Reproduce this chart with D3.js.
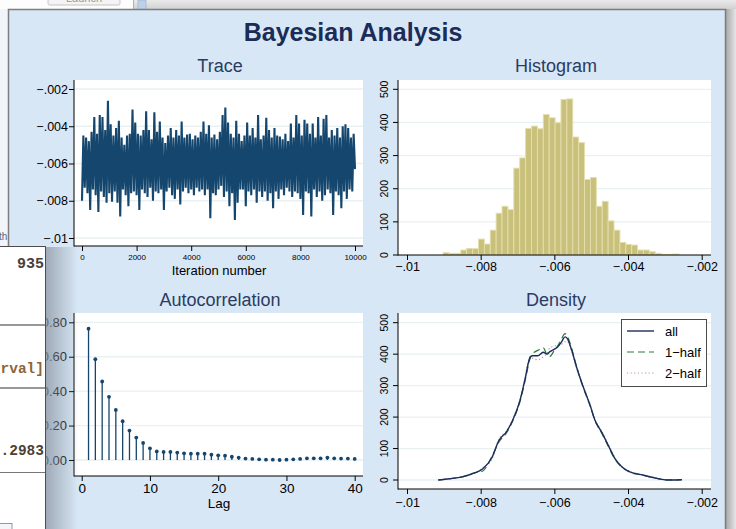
<!DOCTYPE html>
<html>
<head>
<meta charset="utf-8">
<script src="https://cdn.jsdelivr.net/npm/d3@7"></script>
<style>
html, body { margin: 0; padding: 0; background: #dedede; overflow: hidden; }
svg { display: block; font-family: "Liberation Sans", Arial, sans-serif; }
</style>
</head>
<body>
<script>

// ---- data ----

// trace: per block of 100 iterations, the lowest and highest draw
const traceStep = 100;
const traceHi = [-0.0045,-0.0046,-0.0048,-0.0043,-0.0035,-0.0044,-0.0034,-0.0035,-0.0042,-0.00263,
  -0.0039,-0.0045,-0.0041,-0.0037,-0.0046,-0.0050,-0.0045,-0.0044,-0.0031,-0.0038,
  -0.0044,-0.0045,-0.0042,-0.0032,-0.0042,-0.0047,-0.00325,-0.0043,-0.00375,-0.0046,
  -0.0049,-0.0045,-0.0041,-0.0046,-0.0042,-0.0045,-0.00375,-0.0046,-0.00445,-0.0044,
  -0.0047,-0.0045,-0.0046,-0.0043,-0.00375,-0.0044,-0.00395,-0.0046,-0.00445,-0.0047,
  -0.0043,-0.0034,-0.0030,-0.0038,-0.0044,-0.0046,-0.0037,-0.0044,-0.0048,-0.0045,
  -0.0038,-0.0045,-0.0041,-0.0046,-0.0034,-0.0047,-0.0045,-0.00355,-0.0042,-0.0046,
  -0.0041,-0.0045,-0.00455,-0.0047,-0.0044,-0.0048,-0.00385,-0.0046,-0.0034,-0.00385,
  -0.0045,-0.00365,-0.00385,-0.0044,-0.00385,-0.0046,-0.0035,-0.0045,-0.0036,-0.0034,
  -0.0046,-0.0042,-0.0045,-0.0041,-0.0046,-0.0040,-0.0039,-0.0041,-0.0046,-0.0044,
  -0.0045];
const traceLo = [-0.0080,-0.0073,-0.0076,-0.0085,-0.0074,-0.0077,-0.0086,-0.0075,-0.0078,-0.0081,
  -0.0076,-0.00805,-0.0075,-0.0081,-0.00885,-0.0074,-0.0077,-0.0083,-0.0076,-0.0075,
  -0.0077,-0.0085,-0.0074,-0.0076,-0.0078,-0.0073,-0.0080,-0.0075,-0.0076,-0.0074,
  -0.0085,-0.0075,-0.0073,-0.0077,-0.0079,-0.0074,-0.0082,-0.0075,-0.0073,-0.0076,
  -0.0074,-0.0077,-0.0073,-0.0075,-0.0074,-0.0077,-0.0074,-0.00894,-0.0076,-0.0077,
  -0.0074,-0.0072,-0.0078,-0.0075,-0.0083,-0.0076,-0.00903,-0.0081,-0.0074,-0.0074,
  -0.0083,-0.0075,-0.0077,-0.0074,-0.0081,-0.0075,-0.0078,-0.0075,-0.0080,-0.0076,
  -0.0084,-0.0075,-0.0079,-0.0074,-0.0077,-0.0073,-0.0075,-0.0078,-0.0075,-0.0076,
  -0.0079,-0.00876,-0.0075,-0.0076,-0.00885,-0.0074,-0.0078,-0.0075,-0.0080,-0.0077,
  -0.0074,-0.0076,-0.00876,-0.0075,-0.0077,-0.0084,-0.0075,-0.0079,-0.0074,-0.0075,
  -0.0063];
const traceXTicks = [0, 2000, 4000, 6000, 8000, 10000];
const traceYTicks = [-0.01, -0.008, -0.006, -0.004, -0.002];

// histogram: 40 bins, density per bin
const histStart = -0.00902;
const histBinWidth = 0.00016;
const histDensity = [7, 5, 5, 15, 20, 19, 48, 33, 75, 126,
  147, 137, 262, 293, 382, 389, 381, 424, 414, 399,
  469, 471, 356, 339, 228, 234, 147, 162, 103, 75,
  38, 32, 30, 15, 15, 10, 5, 2, 2, 3];
const paramTicks = [-0.01, -0.008, -0.006, -0.004, -0.002];
const densTicks = [0, 100, 200, 300, 400, 500];

// autocorrelation, lags 1..40
const acfLags = d3.range(1, 41);
const acfValues = [0.763, 0.586, 0.456, 0.367, 0.291, 0.225, 0.171, 0.130, 0.099, 0.068,
  0.050, 0.047, 0.047, 0.043, 0.039, 0.037, 0.037, 0.037, 0.031, 0.027,
  0.025, 0.019, 0.014, 0.008, 0.006, 0.004, 0.002, 0.002, 0.000, 0.002,
  0.004, 0.006, 0.010, 0.010, 0.010, 0.014, 0.010, 0.008, 0.008, 0.006];
const lagTicks = [0, 10, 20, 30, 40];
const acfTicks = [0, 0.2, 0.4, 0.6, 0.8];

// kernel density: whole chain and its two halves
const densX = [-0.00915, -0.00885, -0.00850, -0.00820, -0.00795, -0.00770, -0.00750, -0.00730, -0.00712, -0.00693,
  -0.00680, -0.00666, -0.00660, -0.00645, -0.00630, -0.00620, -0.00612, -0.00601, -0.00590, -0.00580,
  -0.00571, -0.00565, -0.00553, -0.00540, -0.00522, -0.00503, -0.00490, -0.00472, -0.00454, -0.00436,
  -0.00417, -0.00395, -0.00360, -0.00322, -0.00295, -0.00254];
const densAll = [0, 4, 10, 21, 35, 70, 127, 153, 193, 254, 318, 390, 395, 395, 406, 400, 408, 415, 424, 440,
  455, 450, 413, 360, 297, 238, 191, 153, 111, 69, 42, 26, 16, 5, 0, 1];
const densHalf1 = [0, 4, 10, 22, 28, 74, 122, 150, 190, 250, 312, 385, 400, 412, 420, 398, 393, 410, 428, 450,
  465, 458, 418, 362, 295, 236, 190, 150, 108, 67, 41, 25, 15, 5, 0, 1];
const densHalf2 = [0, 4, 11, 20, 38, 66, 130, 156, 196, 258, 322, 392, 388, 382, 392, 402, 420, 425, 430, 432,
  440, 440, 408, 358, 300, 240, 193, 156, 114, 72, 43, 27, 17, 6, 1, 1];
const densLabels = ["all", "1\u2212half", "2\u2212half"];


// ---- drawing ----

const W = 736, H = 529;
const navy = "#15466e";
const gridCol = "#e9f1f3";

const svg = d3.select("body").append("svg")
    .attr("width", W)
    .attr("height", H);

const defs = svg.append("defs");
let rg = defs.append("linearGradient").attr("id", "rightShade");
rg.append("stop").attr("offset", "0").attr("stop-color", "#a9a9a9");
rg.append("stop").attr("offset", "1").attr("stop-color", "#e6e6e6");
let sg = defs.append("linearGradient").attr("id", "leftShadow");
sg.append("stop").attr("offset", "0").attr("stop-color", "#8c96a3").attr("stop-opacity", 0.75);
sg.append("stop").attr("offset", "1").attr("stop-color", "#8c96a3").attr("stop-opacity", 0);
let tg = defs.append("linearGradient").attr("id", "topShade")
    .attr("x1", 0).attr("y1", 0).attr("x2", 0).attr("y2", 1);
tg.append("stop").attr("offset", "0").attr("stop-color", "#eaeaea");
tg.append("stop").attr("offset", "1").attr("stop-color", "#cfcfcf");

// windows behind
svg.append("rect").attr("x", 0).attr("y", 0).attr("width", W).attr("height", 10).attr("fill", "url(#topShade)");
svg.append("rect").attr("x", 0).attr("y", 0).attr("width", 133).attr("height", 10).attr("fill", "#fdfdfd");
svg.append("rect").attr("x", 48).attr("y", -8).attr("width", 72).attr("height", 13).attr("rx", 2)
    .attr("fill", "#f4f4f4").attr("stroke", "#c4c4c4");
svg.append("text").attr("x", 84).attr("y", 2).attr("text-anchor", "middle")
    .attr("font-size", 11).attr("fill", "#999").text("Launch");
svg.append("line").attr("x1", 133.5).attr("x2", 133.5).attr("y1", 0).attr("y2", 10).attr("stroke", "#b0b0b0");
svg.append("rect").attr("x", 138).attr("y", 0).attr("width", 8).attr("height", 10)
    .attr("fill", "#bcd0ea").attr("stroke", "#9fb4cf").attr("stroke-width", 0.8);
svg.append("rect").attr("x", 726).attr("y", 9).attr("width", 10).attr("height", H).attr("fill", "url(#rightShade)");
svg.append("rect").attr("x", 0).attr("y", 9).attr("width", 9).attr("height", 240).attr("fill", "#f1f4f8");
svg.append("text").attr("x", -1).attr("y", 240).attr("font-size", 10).attr("fill", "#5a6880").text("th");

// graph window
svg.append("rect").attr("x", 8.5).attr("y", 9.5).attr("width", 717).attr("height", 540)
    .attr("fill", "#d8e7f5").attr("stroke", "#7d7d7d").attr("stroke-width", 1.5);

svg.append("text").attr("x", 353).attr("y", 41).attr("text-anchor", "middle")
    .attr("font-size", 25).attr("font-weight", "bold").attr("fill", "#1b2c58")
    .text("Bayesian Analysis");

function subtitle(x, y, s) {
    svg.append("text").attr("x", x).attr("y", y).attr("text-anchor", "middle")
        .attr("font-size", 18).attr("fill", "#2b3b64").text(s);
}

function plotBox(b) {
    svg.append("rect").attr("x", b.x0).attr("y", b.y0)
        .attr("width", b.x1 - b.x0).attr("height", b.y1 - b.y0).attr("fill", "#fff");
}

function gridlines(b, y, ticks) {
    svg.append("g").selectAll("line").data(ticks).join("line")
        .attr("x1", b.x0).attr("x2", b.x1)
        .attr("y1", d => y(d)).attr("y2", d => y(d))
        .attr("stroke", gridCol).attr("stroke-width", 1.3);
}

function styleAxis(ax, size) {
    ax.attr("font-family", null).attr("font-size", size);
    ax.select(".domain").remove();
    ax.selectAll("line").attr("stroke", "#000");
    ax.selectAll("text").attr("fill", "#000");
}

function leftAxis(b, y, ticks, fmt, size, pad) {
    let ax = svg.append("g").attr("transform", "translate(" + b.x0 + ",0)")
        .call(d3.axisLeft(y).tickValues(ticks).tickFormat(fmt).tickSize(5).tickPadding(pad));
    styleAxis(ax, size);
    svg.append("line").attr("x1", b.x0).attr("x2", b.x0).attr("y1", b.y0).attr("y2", b.y1 + 0.5)
        .attr("stroke", "#000");
}

function leftAxisRotated(b, y, ticks, size) {
    let g = svg.append("g");
    g.selectAll("line").data(ticks).join("line")
        .attr("x1", b.x0 - 5).attr("x2", b.x0)
        .attr("y1", d => y(d)).attr("y2", d => y(d)).attr("stroke", "#000");
    g.selectAll("text").data(ticks).join("text")
        .attr("transform", d => "translate(" + (b.x0 - 10) + "," + y(d) + ") rotate(-90)")
        .attr("text-anchor", "middle").attr("font-size", size).attr("fill", "#000")
        .text(d => d);
    svg.append("line").attr("x1", b.x0).attr("x2", b.x0).attr("y1", b.y0).attr("y2", b.y1 + 0.5)
        .attr("stroke", "#000");
}

function bottomAxis(b, x, ticks, fmt, size, pad) {
    let ax = svg.append("g").attr("transform", "translate(0," + b.y1 + ")")
        .call(d3.axisBottom(x).tickValues(ticks).tickFormat(fmt).tickSize(5).tickPadding(pad));
    styleAxis(ax, size);
    svg.append("line").attr("x1", b.x0).attr("x2", b.x1).attr("y1", b.y1).attr("y2", b.y1)
        .attr("stroke", "#000");
}

function stataNum(d) {
    let s = d3.format(".3~f")(Math.abs(d)).replace(/^0\./, ".");
    return (d < 0 ? "\u2212" : "") + s;
}

// Trace
const trBox = {x0: 74, x1: 363, y0: 80, y1: 246};
const trX = d3.scaleLinear().domain([0, 10000]).range([82, 355]);
const trY = d3.scaleLinear().domain([-0.01, -0.002]).range([238, 89]);
subtitle(220, 72, "Trace");
plotBox(trBox);
gridlines(trBox, trY, traceYTicks);

const tracePts = [];
traceLo.forEach(function (lo, i) {
    tracePts.push([i * traceStep, lo]);
    if (i < traceHi.length - 1) tracePts.push([i * traceStep + traceStep / 2, traceHi[i]]);
});
svg.append("path")
    .datum(tracePts)
    .attr("fill", "none")
    .attr("stroke", navy)
    .attr("stroke-width", 2.1)
    .attr("stroke-linejoin", "bevel")
    .attr("d", d3.line().x(d => trX(d[0])).y(d => trY(d[1])));

leftAxis(trBox, trY, traceYTicks, stataNum, 12.5, 1);
bottomAxis(trBox, trX, traceXTicks, d3.format("d"), 8, 3);
svg.append("text").attr("x", 219).attr("y", 274.5).attr("text-anchor", "middle")
    .attr("font-size", 13).text("Iteration number");

// Histogram
const hiBox = {x0: 398, x1: 711, y0: 80, y1: 255};
const hiX = d3.scaleLinear().domain([-0.01, -0.002]).range([407, 701.7]);
const hiY = d3.scaleLinear().domain([0, 500]).range([255, 89.3]);
subtitle(556, 72, "Histogram");
plotBox(hiBox);
gridlines(hiBox, hiY, densTicks.slice(1));
svg.append("g").selectAll("rect").data(histDensity).join("rect")
    .attr("x", (d, i) => hiX(histStart + i * histBinWidth))
    .attr("width", (d, i) => hiX(histStart + (i + 1) * histBinWidth) - hiX(histStart + i * histBinWidth))
    .attr("y", d => hiY(d))
    .attr("height", d => hiY(0) - hiY(d))
    .attr("fill", "#c9c17b")
    .attr("stroke", "#e4dfae")
    .attr("stroke-width", 0.9);
leftAxisRotated(hiBox, hiY, densTicks, 10.5);
bottomAxis(hiBox, hiX, paramTicks, stataNum, 12.5, 2);

// Autocorrelation
const acBox = {x0: 74, x1: 363, y0: 313, y1: 476};
const acX = d3.scaleLinear().domain([0, 40]).range([81.7, 354.7]);
const acY = d3.scaleLinear().domain([0, 0.8]).range([460, 322.3]);
subtitle(220, 306, "Autocorrelation");
plotBox(acBox);
gridlines(acBox, acY, acfTicks);
svg.append("g").selectAll("line").data(acfValues).join("line")
    .attr("x1", (d, i) => acX(acfLags[i])).attr("x2", (d, i) => acX(acfLags[i]))
    .attr("y1", acY(0)).attr("y2", d => acY(d))
    .attr("stroke", navy).attr("stroke-width", 1.3);
svg.append("g").selectAll("circle").data(acfValues).join("circle")
    .attr("cx", (d, i) => acX(acfLags[i]))
    .attr("cy", d => acY(d))
    .attr("r", 1.9)
    .attr("fill", navy);
leftAxis(acBox, acY, acfTicks, d3.format(".2f"), 13, 2);
bottomAxis(acBox, acX, lagTicks, d3.format("d"), 13.5, 2);
svg.append("text").attr("x", 219).attr("y", 508).attr("text-anchor", "middle")
    .attr("font-size", 13.5).text("Lag");

// Density
const deBox = {x0: 398, x1: 711, y0: 313, y1: 489};
const deX = hiX.copy();
const deY = d3.scaleLinear().domain([0, 500]).range([480, 322.7]);
subtitle(556, 306, "Density");
plotBox(deBox);
gridlines(deBox, deY, densTicks);

const densLine = d3.line().curve(d3.curveMonotoneX)
    .x((d, i) => deX(densX[i]))
    .y(d => deY(d));
const densStyles = [
    {values: densAll, color: "#1c2b5c", dash: null, width: 1.4},
    {values: densHalf1, color: "#2c7a3a", dash: "7,4", width: 1.2},
    {values: densHalf2, color: "#c28fb0", dash: "1.2,2.4", width: 1.2}
];
// draw the halves first, whole chain on top
[densStyles[2], densStyles[1], densStyles[0]].forEach(function (s) {
    svg.append("path").datum(s.values)
        .attr("fill", "none")
        .attr("stroke", s.color)
        .attr("stroke-width", s.width)
        .attr("stroke-dasharray", s.dash)
        .attr("d", densLine);
});
leftAxisRotated(deBox, deY, densTicks, 10.5);
bottomAxis(deBox, deX, paramTicks, stataNum, 12.5, 4);

// legend
const leg = svg.append("g").attr("transform", "translate(621,319)");
leg.append("rect").attr("x", 0.5).attr("y", 0.5).attr("width", 85).attr("height", 67)
    .attr("fill", "#fff").attr("stroke", "#4a4a4a");
densStyles.forEach(function (s, i) {
    let yy = 12 + i * 21;
    leg.append("line").attr("x1", 6).attr("x2", 33).attr("y1", yy).attr("y2", yy)
        .attr("stroke", s.color).attr("stroke-width", s.width).attr("stroke-dasharray", s.dash);
    leg.append("text").attr("x", 44).attr("y", yy + 4.5).attr("font-size", 13).text(densLabels[i]);
});

// results window lying over the left edge
svg.append("rect").attr("x", 46).attr("y", 247).attr("width", 32).attr("height", H)
    .attr("fill", "url(#leftShadow)");
svg.append("rect").attr("x", -2).attr("y", 246.5).attr("width", 47.5).attr("height", H)
    .attr("fill", "#fff").attr("stroke", "#4d4d4d");
[325, 388].forEach(function (yy) {
    svg.append("line").attr("x1", 0).attr("x2", 45).attr("y1", yy).attr("y2", yy)
        .attr("stroke", "#333").attr("stroke-width", 1.2);
});
svg.append("line").attr("x1", 0).attr("x2", 45).attr("y1", 472.5).attr("y2", 472.5)
    .attr("stroke", "#777");
const mono = "'Liberation Mono', 'DejaVu Sans Mono', monospace";
svg.append("text").attr("x", 44).attr("y", 268).attr("text-anchor", "end")
    .attr("font-family", mono).attr("font-size", 15).attr("font-weight", "bold")
    .attr("fill", "#4a4036").text("935");
svg.append("text").attr("x", 44).attr("y", 373).attr("text-anchor", "end")
    .attr("font-family", mono).attr("font-size", 14.5).attr("font-weight", "bold")
    .attr("fill", "#8e6436").text("rval]");
svg.append("text").attr("x", 44).attr("y", 455).attr("text-anchor", "end")
    .attr("font-family", mono).attr("font-size", 14.5).attr("font-weight", "bold")
    .attr("fill", "#4d4034").text(".2983");
svg.append("rect").attr("x", -1).attr("y", 523.5).attr("width", 13).attr("height", 10)
    .attr("fill", "#f3f5f8").attr("stroke", "#8a9bb0");

</script>
</body>
</html>
